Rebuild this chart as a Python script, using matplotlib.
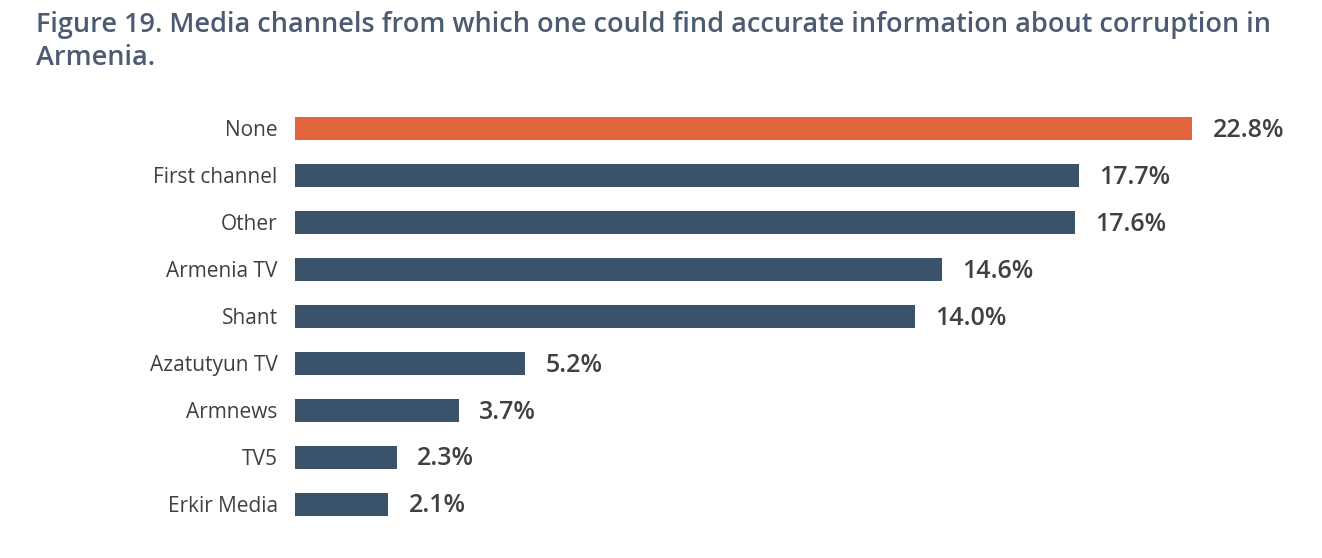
import matplotlib
matplotlib.use('Agg')
import matplotlib.pyplot as plt

# --- DATA ---
categories = ['None', 'First channel', 'Other', 'Armenia TV', 'Shant',
              'Azatutyun TV', 'Armnews', 'TV5', 'Erkir Media']
values = [22.8, 17.7, 17.6, 14.6, 14.0, 5.2, 3.7, 2.3, 2.1]

TITLE = 'Figure 19. Media channels from which one could find accurate information about corruption in\nArmenia.'
XMAX = 20.25  # axis max in the original, the None bar runs up to it

ORANGE = '#E1643A'
NAVY = '#3A536B'
TEXT = '#404040'
TITLE_C = '#4A5B72'

plt.rcParams['font.family'] = ['Open Sans', 'DejaVu Sans']

W, H = 1322, 558
fig = plt.figure(figsize=(W / 100, H / 100), dpi=100)
ax = fig.add_axes([295 / W, 1 - 527.5 / H, (1192 - 295) / W, (527.5 - 105) / H])

ypos = list(range(len(categories)))
colors = [ORANGE] + [NAVY] * (len(categories) - 1)
ax.barh(ypos, values, height=0.49, color=colors)
ax.set_xlim(0, XMAX)
ax.set_ylim(len(categories) - 0.5, -0.5)

for y, v in zip(ypos, values):
    ax.text(min(v, XMAX) + 0.46, y + 0.04, f'{v:.1f}%', va='center', ha='left',
            fontsize=18, fontweight='semibold', color=TEXT, clip_on=False)

ax.set_yticks(ypos)
ax.set_yticklabels(categories, fontsize=15, color=TEXT)
ax.tick_params(axis='y', length=0, pad=12.5)
ax.set_xticks([])
for s in ax.spines.values():
    s.set_visible(False)

fig.text(36 / W, 1 - 11 / H, TITLE, ha='left', va='top', fontsize=19.5,
         fontweight='semibold', color=TITLE_C, linespacing=1.22)

fig.savefig('out.png', dpi=100)
